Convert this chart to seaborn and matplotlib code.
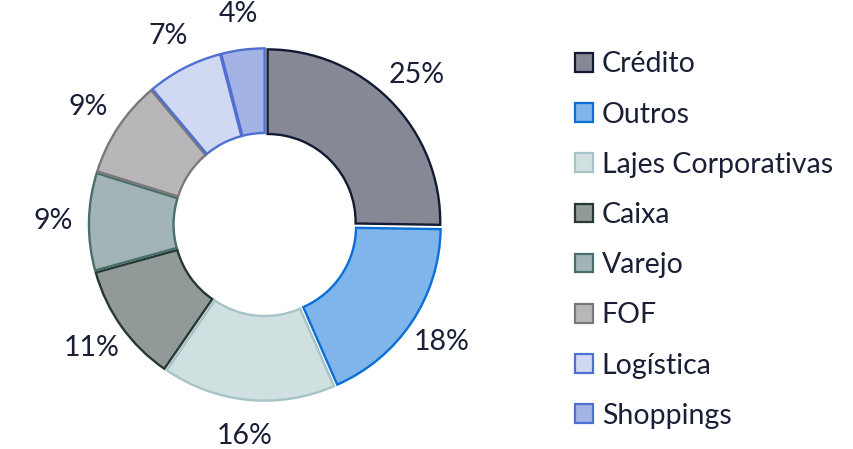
import matplotlib
matplotlib.use("Agg")
import matplotlib.pyplot as plt
import seaborn as sns
from matplotlib.patches import Patch

categories = ["Crédito", "Outros", "Lajes Corporativas", "Caixa", "Varejo", "FOF", "Logística", "Shoppings"]
values = [25, 18, 16, 11, 9, 9, 7, 4]
face_colors = ["#868896", "#7fb5eb", "#d0dfdf", "#919a98", "#a3b4b6", "#b8b6b8", "#d1d9f2", "#a3b3e6"]
edge_colors = ["#131a33", "#0a6fd6", "#a6c4c6", "#253833", "#4a6e6c", "#7a7878", "#4f6fd1", "#4f6fd1"]

sns.set_theme(style="white")
plt.rcParams["font.family"] = ["Lato", "DejaVu Sans"]
text_color = "#1a1f36"

fig = plt.figure(figsize=(8.54, 4.49), dpi=100)
ax = fig.add_axes([0.0474, 0.0, 0.526, 1.0])

wedges, texts, autotexts = ax.pie(
    values,
    colors=face_colors,
    startangle=90,
    counterclock=False,
    explode=[0.02] * len(values),
    autopct="%.0f%%",
    pctdistance=1.21,
    wedgeprops=dict(width=0.49, linewidth=1.7),
    textprops=dict(color=text_color, fontsize=20.5),
)
for w, ec in zip(wedges, edge_colors):
    w.set_edgecolor(ec)

ax.set_xlim(-1.3, 1.3)
ax.set_ylim(-1.30, 1.30)
ax.set_aspect("equal")
ax.axis("off")

handles = [Patch(facecolor=f, edgecolor=e, linewidth=1.6) for f, e in zip(face_colors, edge_colors)]
leg = fig.legend(
    handles, categories,
    loc="upper left",
    bbox_to_anchor=(564 / 854, 1 - 40 / 449),
    frameon=False,
    fontsize=20.5,
    handlelength=0.63,
    handleheight=0.63,
    handletextpad=0.3,
    labelspacing=0.85,
    borderaxespad=0,
)
for t in leg.get_texts():
    t.set_color(text_color)

fig.savefig("out.png", dpi=100, facecolor="white")
